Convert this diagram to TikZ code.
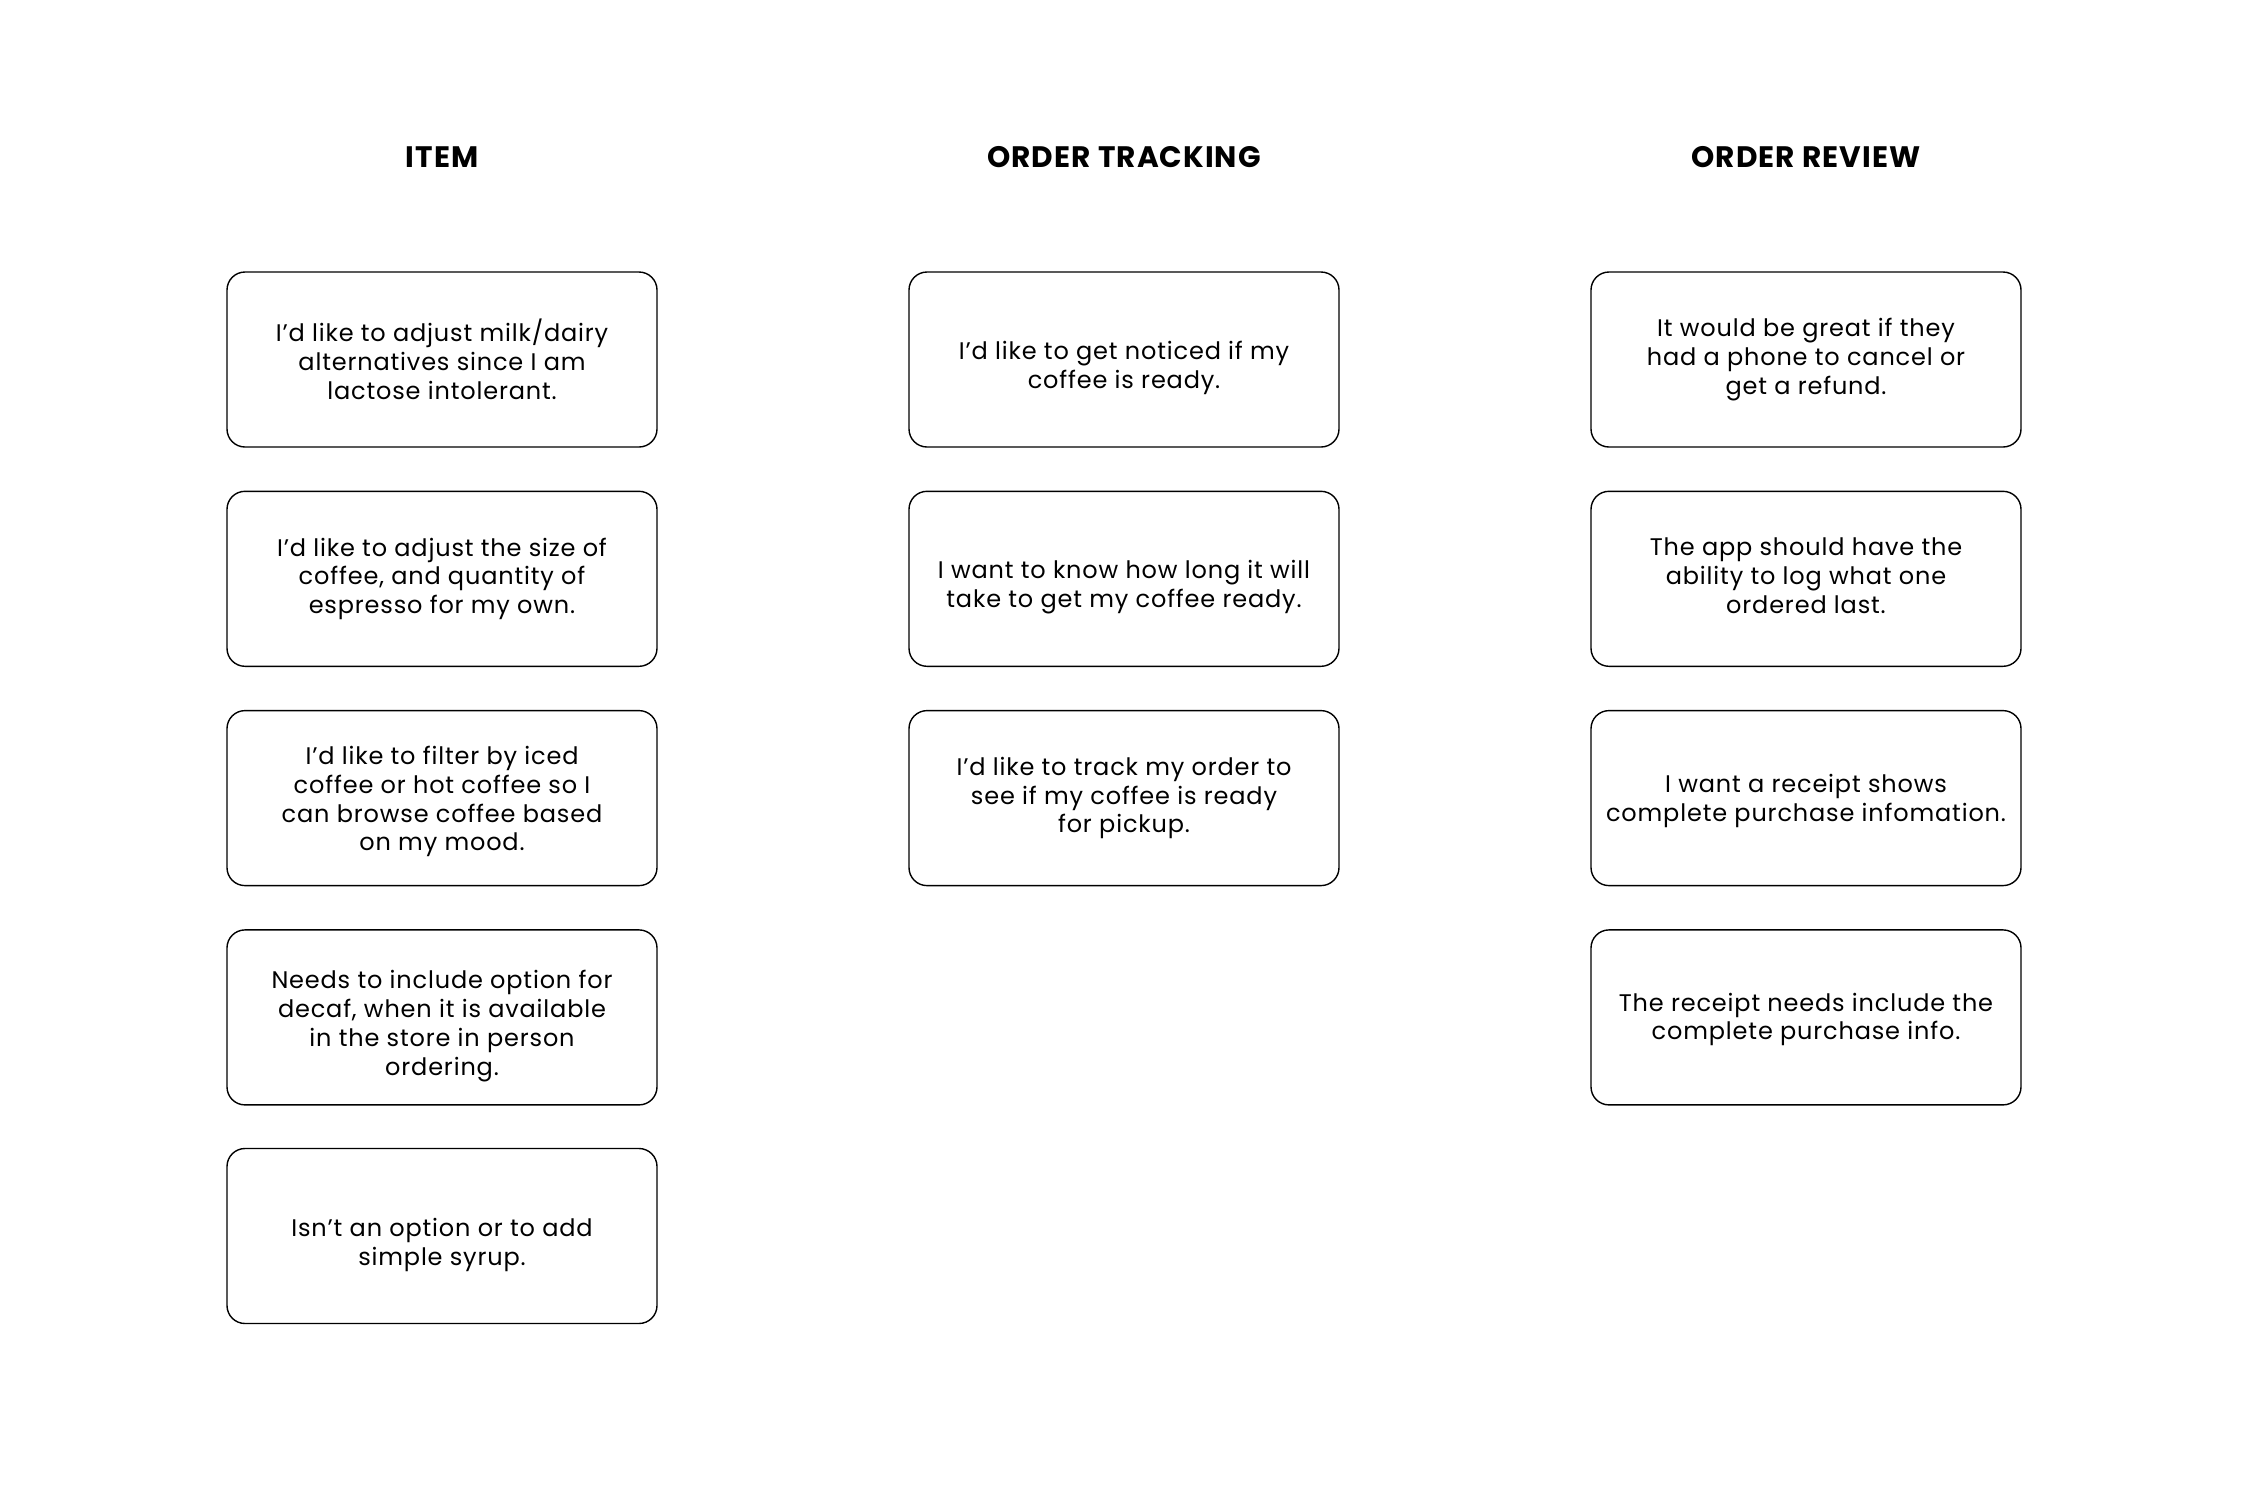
\documentclass[tikz,border=0pt]{standalone}
\usepackage{fontspec}
\setmainfont{Poppins}[LetterSpace=3.5]
\begin{document}
\begin{tikzpicture}[x=1pt,y=-1pt,
  card/.style={draw=black, line width=1.4pt, rounded corners=18pt,
    minimum width=430pt, minimum height=175pt, inner sep=0pt},
  txt/.style={align=center, inner sep=0pt, font=\fontsize{24}{28.8}\selectfont},
  head/.style={font=\fontsize{29.6}{34}\selectfont\bfseries}]
\useasboundingbox[fill=white] (0,0) rectangle (2249,1500);
\node[head] (h1) at (442,157) {ITEM};
\node[head] (h2) at (1124,157) {ORDER TRACKING};
\node[head] (h3) at (1806,157) {ORDER REVIEW};
% boxes
\node[card] (a1) at (442,359.5) {};
\node[card] (a2) at (442,578.8) {};
\node[card] (a3) at (442,798.1) {};
\node[card] (a4) at (442,1017.4) {};
\node[card] (a5) at (442,1236) {};
\node[card] (b1) at (1124,359.5) {};
\node[card] (b2) at (1124,578.8) {};
\node[card] (b3) at (1124,798.1) {};
\node[card] (c1) at (1806,359.5) {};
\node[card] (c2) at (1806,578.8) {};
\node[card] (c3) at (1806,798.1) {};
\node[card] (c4) at (1806,1017.4) {};
% texts
\node[txt] (a1t) at (a1.center) {I’d like to adjust milk/dairy\\alternatives since I am\\lactose intolerant.};
\node[txt] (a2t) at (a2.center) {I’d like to adjust the size of\\coffee, and quantity of\\espresso for my own.};
\node[txt] (a3t) at ([yshift=-3.5pt]a3.center) {I’d like to filter by iced\\coffee or hot coffee so I\\can browse coffee based\\on my mood.};
\node[txt] (a4t) at ([yshift=-8.6pt]a4.center) {Needs to include option for\\decaf, when it is available\\in the store in person\\ordering.};
\node[txt] (a5t) at ([yshift=-8.6pt]a5.center) {Isn’t an option or to add\\simple syrup.};
\node[txt] (b1t) at ([yshift=-8.6pt]b1.center) {I’d like to get noticed if my\\coffee is ready.};
\node[txt] (b2t) at ([yshift=-8.6pt]b2.center) {I want to know how long it will\\take to get my coffee ready.};
\node[txt] (b3t) at (b3.center) {I’d like to track my order to\\see if my coffee is ready\\for pickup.};
\node[txt] (c1t) at (c1.center) {It would be great if they\\had a phone to cancel or\\get a refund.};
\node[txt] (c2t) at ([yshift=3pt]c2.center) {The app should have the\\ability to log what one\\ordered last.};
\node[txt] (c3t) at ([yshift=-3pt]c3.center) {I want a receipt shows\\complete purchase infomation.};
\node[txt] (c4t) at ([yshift=-2pt]c4.center) {The receipt needs include the\\complete purchase info.};
\end{tikzpicture}
\end{document}
